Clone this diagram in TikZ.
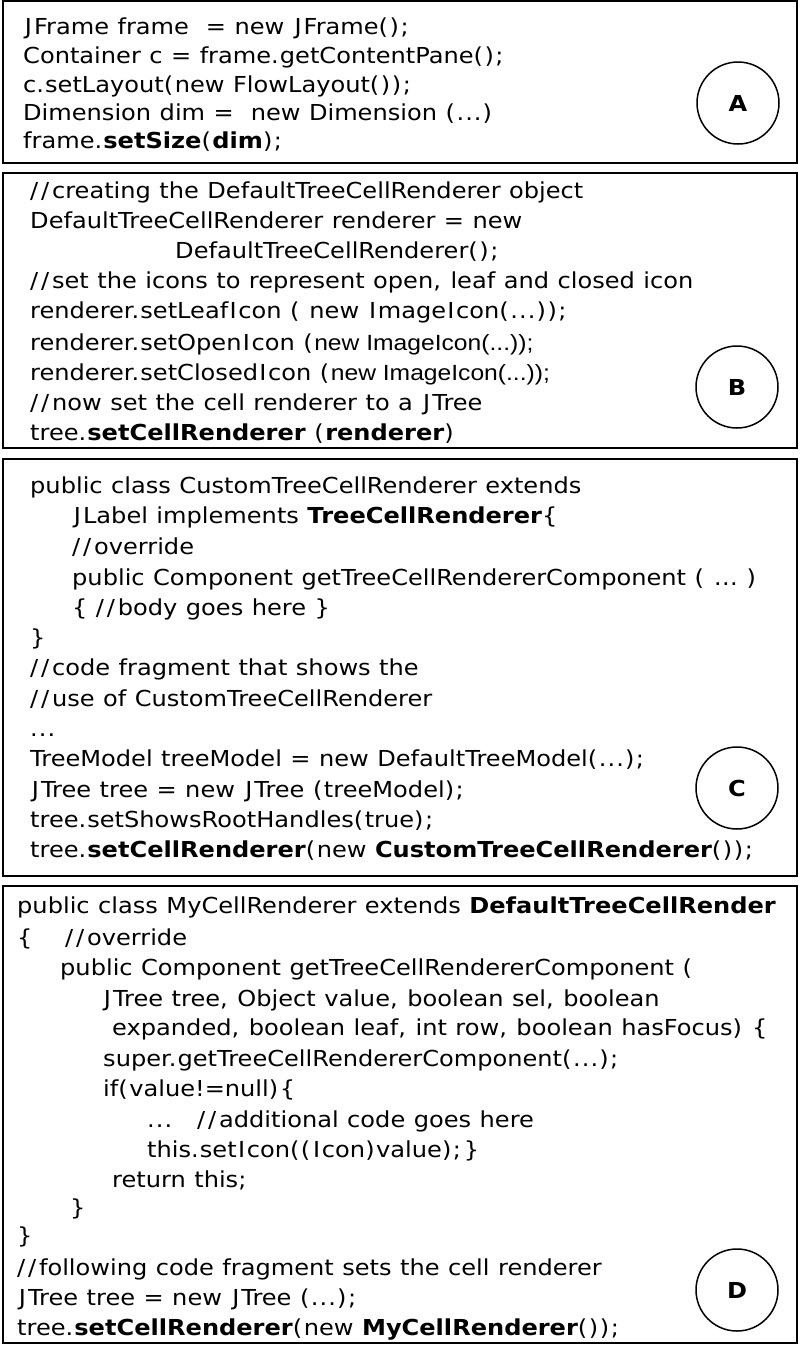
\documentclass[tikz,border=0pt]{standalone}
\usepackage{fontspec}
\setmainfont{DejaVu Sans}[FakeStretch=1.095, WordSpace=1.106]
\newfontfamily\arialf{Liberation Sans}[FakeStretch=1.12]
% widen some glyphs so that DejaVu Sans takes the widths of the reference face
\newXeTeXintercharclass\clsSl
\newXeTeXintercharclass\clsPa
\newXeTeXintercharclass\clsDt
\newXeTeXintercharclass\clsJ
\newXeTeXintercharclass\clsI
\XeTeXcharclass`\/=\clsSl
\XeTeXcharclass`\;=\clsSl
\XeTeXcharclass`\(=\clsPa
\XeTeXcharclass`\)=\clsPa
\XeTeXcharclass`\.=\clsDt
\XeTeXcharclass`\,=\clsDt
\XeTeXcharclass`\J=\clsJ
\XeTeXcharclass`\I=\clsI
\newcommand\pairrow[2]{%
  \XeTeXinterchartoks #1 0 = {#2}%
  \XeTeXinterchartoks #1 \clsSl = {#2}%
  \XeTeXinterchartoks #1 \clsPa = {#2}%
  \XeTeXinterchartoks #1 \clsDt = {#2}%
  \XeTeXinterchartoks #1 \clsJ = {#2\kern0.08em\relax}%
  \XeTeXinterchartoks #1 \clsI = {#2\kern0.06em\relax}%
  \XeTeXinterchartoks #1 4095 = {#2}}
\pairrow{0}{}
\pairrow{4095}{}
\pairrow{\clsSl}{\kern0.128em\relax}
\pairrow{\clsPa}{\kern0.070em\relax}
\pairrow{\clsDt}{\kern0.049em\relax}
\pairrow{\clsJ}{\kern0.09em\relax}
\pairrow{\clsI}{\kern0.075em\relax}
\newcommand\arialpart[1]{{\XeTeXinterchartokenstate=0 \arialf #1}}
\newcommand\codefont{\fontsize{22}{26}\selectfont\XeTeXinterchartokenstate=1\relax}
\newcommand\circfont{\fontsize{22}{26}\selectfont\bfseries}
\begin{document}
\begin{tikzpicture}[x=1pt,y=-1pt,
  code/.style={anchor=base west, inner sep=0pt, font=\codefont},
  box/.style={draw=black, line width=2pt},
  circ/.style={draw=black, circle, line width=1.5pt, minimum size=82pt, inner sep=0pt, font=\circfont}]
\useasboundingbox (0,0) rectangle (800,1347);
\fill[white] (0,0) rectangle (800,1347);
% boxes
\draw[box] (3,1) rectangle (797,163);
\draw[box] (3,173) rectangle (797,448);
\draw[box] (3,459) rectangle (797,876);
\draw[box] (3,886) rectangle (797,1343);
% circles
\node[circ] (ca) at (738,103) {A};
\node[circ] (cb) at (737,387) {B};
\node[circ] (cc) at (737,788) {C};
\node[circ] (cd) at (737,1290) {D};
% box A
\node[code] (a1) at (23,34) {JFrame frame\ \ = new JFrame();};
\node[code] (a2) at (23,63) {Container c = frame.getContentPane();};
\node[code] (a3) at (23,92) {c.setLayout(new FlowLayout());};
\node[code] (a4) at (23,120) {Dimension dim =\ \ new Dimension (...)};
\node[code] (a5) at (23,148) {frame.\textbf{setSize}(\textbf{dim});};
% box B
\node[code] (b1) at (30,198) {//creating the DefaultTreeCellRenderer object};
\node[code] (b2) at (30,228) {DefaultTreeCellRenderer renderer = new};
\node[code] (b3) at (175,258) {DefaultTreeCellRenderer();};
\node[code] (b4) at (30,288) {//set the icons to represent open, leaf and closed icon};
\node[code] (b5) at (30,318) {renderer.setLeafIcon ( new ImageIcon(...));};
\node[code] (b6) at (30,350) {renderer.setOpenIcon (\arialpart{new ImageIcon(...));}};
\node[code] (b7) at (30,380) {renderer.setClosedIcon (\arialpart{new ImageIcon(...));}};
\node[code] (b8) at (30,410) {//now set the cell renderer to a JTree};
\node[code] (b9) at (30,440) {tree.\textbf{setCellRenderer} (\textbf{renderer})};
% box C
\node[code] (c1) at (30,493) {public class CustomTreeCellRenderer extends};
\node[code] (c2) at (72,523) {JLabel implements \textbf{TreeCellRenderer}\{};
\node[code] (c3) at (72,554) {//override};
\node[code] (c4) at (72,585) {public Component getTreeCellRendererComponent ( … )};
\node[code] (c5) at (72,615) {\{ //body goes here \}};
\node[code] (c6) at (30,645) {\}};
\node[code] (c7) at (30,675) {//code fragment that shows the};
\node[code] (c8) at (30,706) {//use of CustomTreeCellRenderer};
\node[code] (c9) at (30,736) {...};
\node[code] (c10) at (30,766) {TreeModel treeModel = new DefaultTreeModel(...);};
\node[code] (c11) at (30,797) {JTree tree = new JTree (treeModel);};
\node[code] (c12) at (30,827) {tree.setShowsRootHandles(true);};
\node[code] (c13) at (30,857) {tree.\textbf{setCellRenderer}(new \textbf{CustomTreeCellRenderer}());};
% box D
\node[code] (d1) at (17,913) {public class MyCellRenderer extends \textbf{DefaultTreeCellRender}};
\node[code] (d2) at (17,945) {\makebox[48pt][l]{\{}//override};
\node[code] (d3) at (60,975) {public Component getTreeCellRendererComponent (};
\node[code] (d4) at (102,1006) {JTree tree, Object value, boolean sel, boolean};
\node[code] (d5) at (112,1035) {expanded, boolean leaf, int row, boolean hasFocus) \{};
\node[code] (d6) at (103,1066) {super.getTreeCellRendererComponent(...);};
\node[code] (d7) at (103,1096) {if(value!=null)\{};
\node[code] (d8) at (147,1127) {\makebox[50pt][l]{...}//additional code goes here};
\node[code] (d9) at (147,1157) {this.setIcon((Icon)value);\}};
\node[code] (d10) at (112,1187) {return this;};
\node[code] (d11) at (70,1215) {\}};
\node[code] (d12) at (17,1243) {\}};
\node[code] (d13) at (17,1275) {//following code fragment sets the cell renderer};
\node[code] (d14) at (17,1305) {JTree tree = new JTree (...);};
\node[code] (d15) at (17,1335) {tree.\textbf{setCellRenderer}(new \textbf{MyCellRenderer}());};
\end{tikzpicture}
\end{document}
